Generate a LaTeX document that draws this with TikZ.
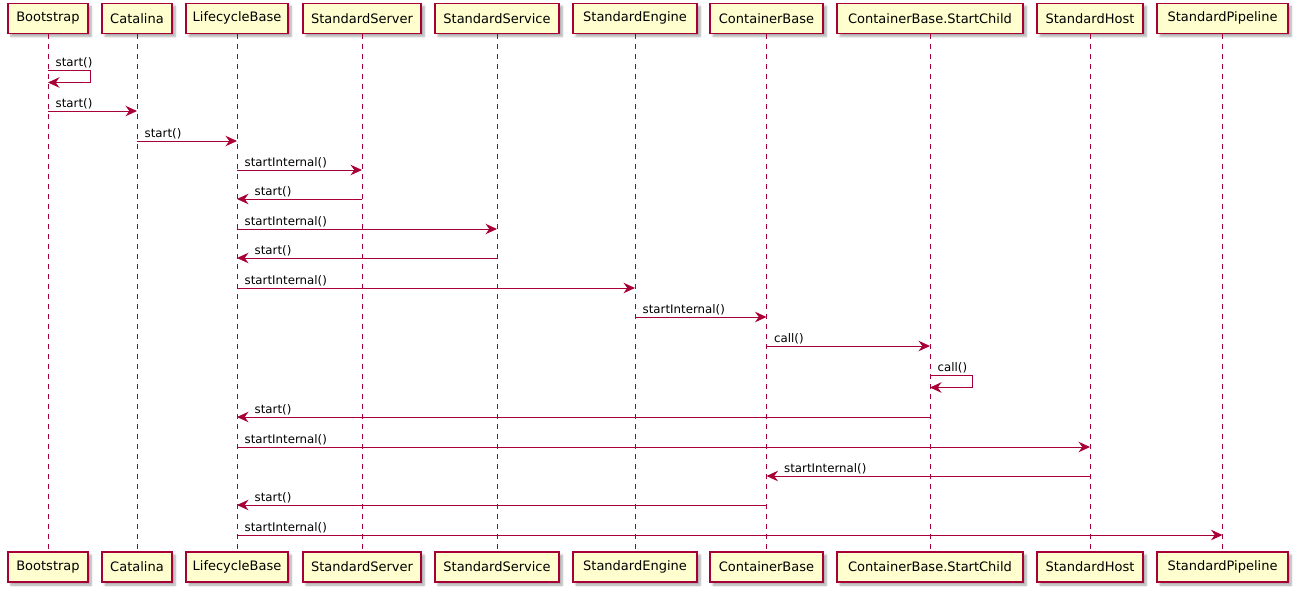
\documentclass[tikz,border=0pt]{standalone}
\usepackage{fontspec}
\setmainfont{DejaVu Sans}
\usetikzlibrary{arrows.meta,shadows.blur}
\definecolor{umlred}{HTML}{A80036}
\definecolor{umlfill}{HTML}{FEFECE}

\tikzset{
  actor/.style={draw=umlred, line width=1.5pt, fill=umlfill, inner sep=0pt,
    minimum height=30pt, font=\fontsize{13}{15}\selectfont,
    blur shadow={shadow xshift=3pt, shadow yshift=-3pt, shadow blur steps=6, shadow opacity=35}},
  lifeline/.style={draw=umlred, line width=1pt, dash pattern=on 5pt off 5pt},
  msg/.style={draw=umlred, line width=1pt,
    -{Stealth[length=11.5pt, width=10.5pt, inset=3.8pt, fill=umlred]}},
  msglabel/.style={inner sep=0pt, anchor=base west, font=\fontsize{11.8}{14}\selectfont},
}

% rightward call: source, target, y, label
\newcommand{\callright}[4]{%
  \draw[msg] (#1.south |- 0,#3) -- (#2.south |- 0,#3);
  \path (#1.south |- 0,#3) ++(7.5,-4) node[msglabel] {#4};}
% leftward return: source, target, y, label
\newcommand{\callleft}[4]{%
  \draw[msg] (#1.south |- 0,#3) -- (#2.south |- 0,#3);
  \path (#2.south |- 0,#3) ++(17.5,-4) node[msglabel] {#4};}
% self call: participant, y, label
\newcommand{\callself}[3]{%
  \draw[msg] (#1.south |- 0,#2) -- ++(42,0) -- ++(0,12.5) -- (#1.south |- 0,#2+12.5);
  \path (#1.south |- 0,#2) ++(7.5,-4) node[msglabel] {#3};}

\begin{document}
\begin{tikzpicture}[x=1pt, y=-1pt]
\useasboundingbox (0,0) rectangle (1297,592);

% participants: key, left, right, title
\foreach \k/\l/\r/\t in {
  bs/8/88/Bootstrap,
  ca/102/172/Catalina,
  lb/186/288/LifecycleBase,
  ss/303/421/StandardServer,
  sv/435/559/StandardService,
  se/573/697/StandardEngine,
  cb/710/823/ContainerBase,
  sc/837/1023/ContainerBase.StartChild,
  sh/1037/1143/StandardHost,
  sp/1157/1288/StandardPipeline}{
  \pgfmathsetmacro{\cx}{(\l+\r)/2}
  \pgfmathsetmacro{\w}{\r-\l}
  \node[actor, minimum width=\w pt] (\k) at (\cx,18.3) {\t};
  \node[actor, minimum width=\w pt] (\k B) at (\cx,567) {\t};
}

% lifelines
\foreach \k in {bs,ca,lb,ss,sv,se,cb,sc,sh,sp}{
  \draw[lifeline] (\k.south) -- (\k B.north);
}

% messages
\callself{bs}{70}{start()}
\callright{bs}{ca}{111}{start()}
\callright{ca}{lb}{141}{start()}
\callright{lb}{ss}{170}{startInternal()}
\callleft{ss}{lb}{199}{start()}
\callright{lb}{sv}{229}{startInternal()}
\callleft{sv}{lb}{258}{start()}
\callright{lb}{se}{288}{startInternal()}
\callright{se}{cb}{317}{startInternal()}
\callright{cb}{sc}{346}{call()}
\callself{sc}{375}{call()}
\callleft{sc}{lb}{417}{start()}
\callright{lb}{sh}{447}{startInternal()}
\callleft{sh}{cb}{476}{startInternal()}
\callleft{cb}{lb}{505}{start()}
\callright{lb}{sp}{535}{startInternal()}
\end{tikzpicture}
\end{document}
